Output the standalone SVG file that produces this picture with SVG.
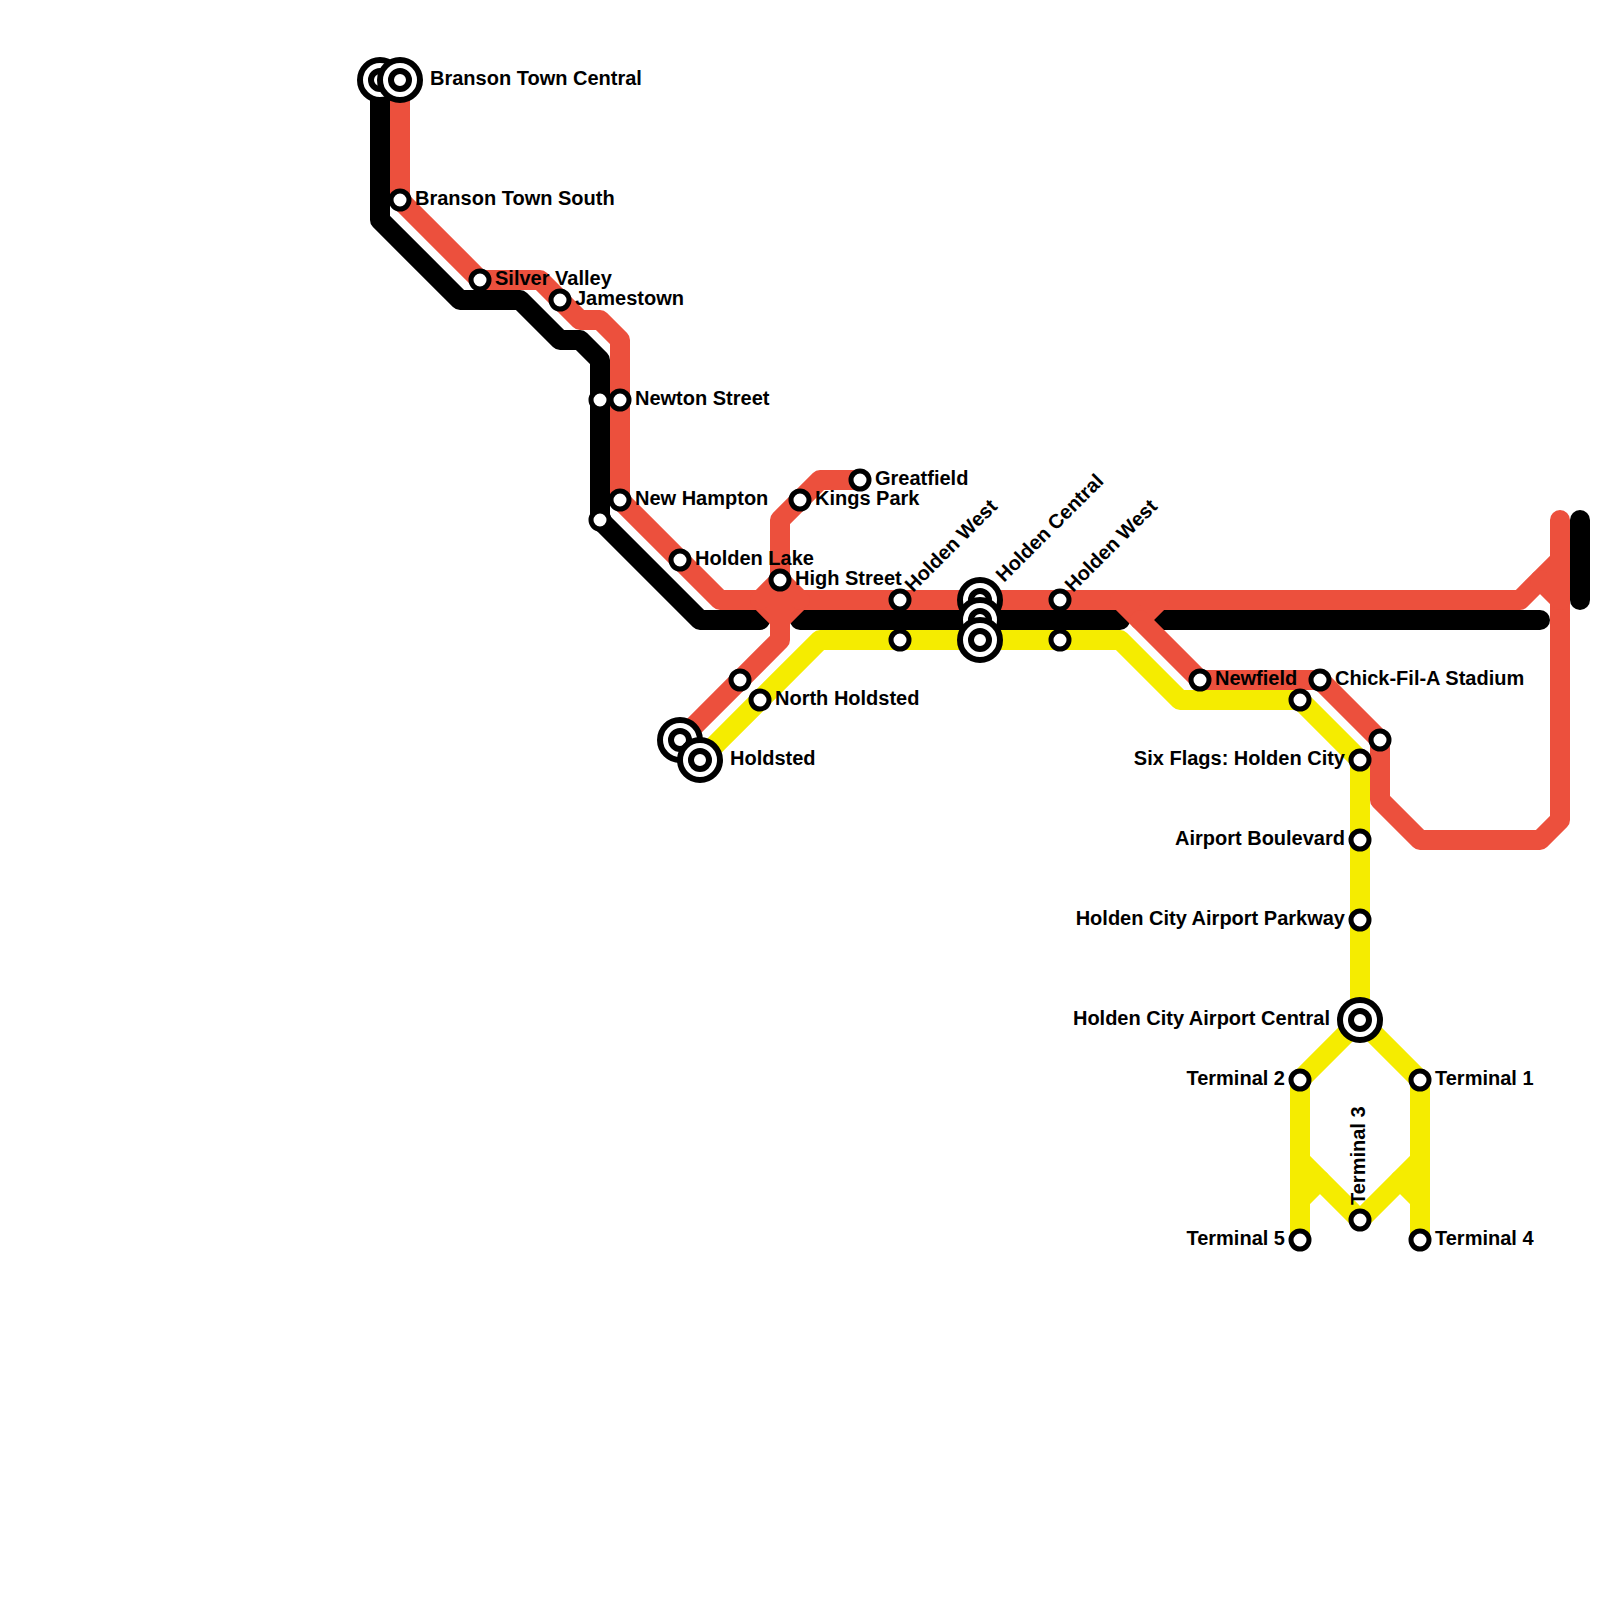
<svg xmlns="http://www.w3.org/2000/svg" width="1600" height="1600" viewBox="0 0 1600 1600">
<style>
.l{fill:none;stroke-width:20;stroke-linecap:round;stroke-linejoin:round}
.k{stroke:#000}.r{stroke:#ec503d}.y{stroke:#f5ec00}
.s{fill:#fff;stroke:#000;stroke-width:5}
.c{fill:#fff;stroke:#000;stroke-width:6}
.b{fill:#fff;stroke:#000;stroke-width:6}
text{font-family:"Liberation Sans",Arial,sans-serif;font-weight:700;font-size:20px;fill:#000}
.e{text-anchor:end}
</style>
<defs>
<circle id="st" r="9" class="s"/>
<g id="big"><circle r="20" class="b"/><circle r="9" class="c"/></g>
</defs>
<rect width="1600" height="1600" fill="#fff"/>
<g id="connectors">
<g id="line-black" class="l k">
<path d="M380 80V220L460 300H520L560 340H580L600 360V520L700 620H760"/>
<path d="M800 620H1120"/>
<path d="M1160 620H1540"/>
<path d="M1580 520V600"/>
</g>
<g id="line-yellow" class="l y">
<path d="M700 760L820 640H1120L1180 700H1300L1360 760V1020L1300 1080V1240"/>
<path d="M1360 1020L1420 1080V1240"/>
<path d="M1300 1160L1360 1220L1420 1160"/>
<path d="M1300 1200L1320 1180"/>
<path d="M1420 1200L1400 1180"/>
</g>
<g id="line-red" class="l r">
<path d="M400 80V200L480 280H540L580 320H600L620 340V500L720 600H760L780 620L800 600H1520L1560 560"/>
<path d="M760 600L780 580L800 600"/>
<path d="M860 480H820L780 520V640L680 740"/>
<path d="M1120 600L1140 620L1160 600"/>
<path d="M1140 620L1200 680H1320L1380 740V800L1420 840H1540L1560 820V520"/>
<path d="M1540 580L1560 600"/>
</g>
</g>
<g id="nodes">
<g id="n-branson-central-k"><use href="#big" x="380" y="80"/></g>
<g id="n-branson-central"><use href="#big" x="400" y="80"/><text x="430" y="85">Branson Town Central</text></g>
<g id="n-branson-south"><use href="#st" x="400" y="200"/><text x="415" y="205">Branson Town South</text></g>
<g id="n-silver-valley"><use href="#st" x="480" y="280"/><text x="495" y="285">Silver Valley</text></g>
<g id="n-jamestown"><use href="#st" x="560" y="300"/><text x="575" y="305">Jamestown</text></g>
<g id="n-newton-k"><use href="#st" x="600" y="400"/></g>
<g id="n-newton"><use href="#st" x="620" y="400"/><text x="635" y="405">Newton Street</text></g>
<g id="n-hampton-k"><use href="#st" x="600" y="520"/></g>
<g id="n-hampton"><use href="#st" x="620" y="500"/><text x="635" y="505">New Hampton</text></g>
<g id="n-holden-lake"><use href="#st" x="680" y="560"/><text x="695" y="565">Holden Lake</text></g>
<g id="n-high-street"><use href="#st" x="780" y="580"/><text x="795" y="585">High Street</text></g>
<g id="n-kings-park"><use href="#st" x="800" y="500"/><text x="815" y="505">Kings Park</text></g>
<g id="n-greatfield"><use href="#st" x="860" y="480"/><text x="875" y="485">Greatfield</text></g>
<g id="n-holden-west-1"><use href="#st" x="900" y="600"/><text transform="translate(913 593) rotate(-45)">Holden West</text></g>
<g id="n-holden-west-1y"><use href="#st" x="900" y="640"/></g>
<g id="n-holden-central-r"><use href="#big" x="980" y="600"/><text transform="translate(1004 583) rotate(-45)">Holden Central</text></g>
<g id="n-holden-central-k"><use href="#big" x="980" y="620"/></g>
<g id="n-holden-central-y"><use href="#big" x="980" y="640"/></g>
<g id="n-holden-west-2"><use href="#st" x="1060" y="600"/><text transform="translate(1073 593) rotate(-45)">Holden West</text></g>
<g id="n-holden-west-2y"><use href="#st" x="1060" y="640"/></g>
<g id="n-unnamed-r"><use href="#st" x="740" y="680"/></g>
<g id="n-north-holdsted"><use href="#st" x="760" y="700"/><text x="775" y="705">North Holdsted</text></g>
<g id="n-holdsted-r"><use href="#big" x="680" y="740"/></g>
<g id="n-holdsted"><use href="#big" x="700" y="760"/><text x="730" y="765">Holdsted</text></g>
<g id="n-newfield"><use href="#st" x="1200" y="680"/><text x="1215" y="685">Newfield</text></g>
<g id="n-newfield-y"><use href="#st" x="1300" y="700"/></g>
<g id="n-chick"><use href="#st" x="1320" y="680"/><text x="1335" y="685">Chick-Fil-A Stadium</text></g>
<g id="n-six-flags-r"><use href="#st" x="1380" y="740"/></g>
<g id="n-six-flags"><use href="#st" x="1360" y="760"/><text class="e" x="1345" y="765">Six Flags: Holden City</text></g>
<g id="n-airport-blvd"><use href="#st" x="1360" y="840"/><text class="e" x="1345" y="845">Airport Boulevard</text></g>
<g id="n-airport-pkwy"><use href="#st" x="1360" y="920"/><text class="e" x="1345" y="925">Holden City Airport Parkway</text></g>
<g id="n-airport-central"><use href="#big" x="1360" y="1020"/><text class="e" x="1330" y="1025">Holden City Airport Central</text></g>
<g id="n-t2"><use href="#st" x="1300" y="1080"/><text class="e" x="1285" y="1085">Terminal 2</text></g>
<g id="n-t1"><use href="#st" x="1420" y="1080"/><text x="1435" y="1085">Terminal 1</text></g>
<g id="n-t3"><use href="#st" x="1360" y="1220"/><text transform="translate(1365 1205) rotate(-90)">Terminal 3</text></g>
<g id="n-t5"><use href="#st" x="1300" y="1240"/><text class="e" x="1285" y="1245">Terminal 5</text></g>
<g id="n-t4"><use href="#st" x="1420" y="1240"/><text x="1435" y="1245">Terminal 4</text></g>
</g>
</svg>
